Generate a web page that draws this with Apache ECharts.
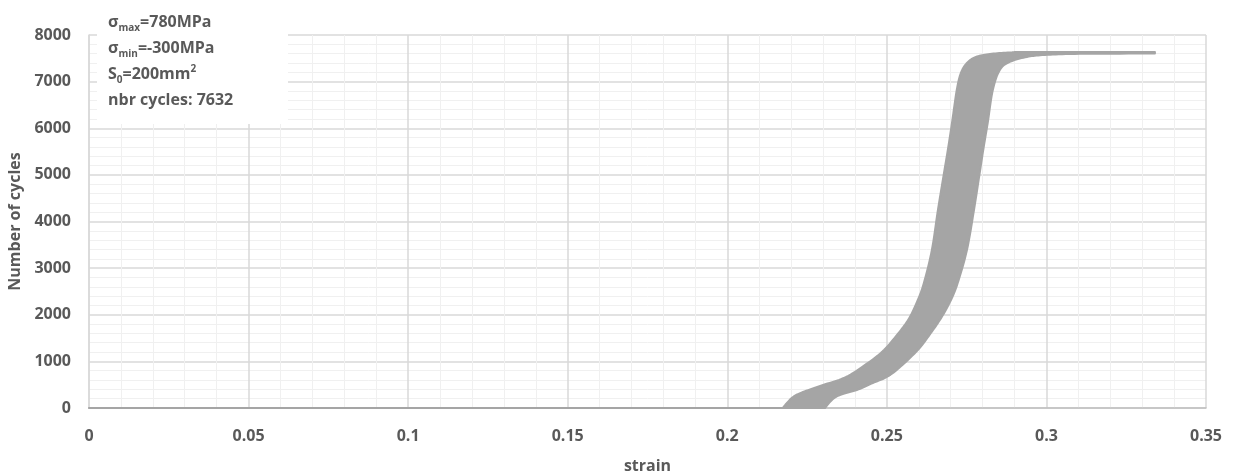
<!DOCTYPE html>
<html>
<head>
<meta charset="utf-8">
<script src="https://cdn.jsdelivr.net/npm/echarts@6/dist/echarts.min.js"></script>
<style>
html,body{margin:0;padding:0;background:#fff;}
#chart{width:1234px;height:475px;}
</style>
</head>
<body>
<div id="chart"></div>
<script>
// First loading branch along the strain axis (cycle 0)
const loadStrain = [0, 0.2174];
const loadCycles = [0, 0];
// Left (minimum strain) boundary of the cyclic band, bottom to top
const leftStrain = [0.2174, 0.2184, 0.2206, 0.2237, 0.2300, 0.2372, 0.2440, 0.2491, 0.2544, 0.2572, 0.2597, 0.2616, 0.2641, 0.2660, 0.2679, 0.2691, 0.2704, 0.2719, 0.2732, 0.2751, 0.2779, 0.2823, 0.2885, 0.2950, 0.3340];
const leftCycles = [0, 86, 236, 343, 493, 665, 965, 1244, 1673, 1952, 2317, 2681, 3389, 4247, 5041, 5534, 6113, 6821, 7186, 7400, 7529, 7593, 7625, 7635, 7635];
// Right (maximum strain) boundary of the cyclic band, bottom to top
const rightStrain = [0.2306, 0.2328, 0.2353, 0.2406, 0.2456, 0.2500, 0.2538, 0.2597, 0.2638, 0.2672, 0.2701, 0.2722, 0.2751, 0.2773, 0.2791, 0.2802, 0.2816, 0.2832, 0.2854, 0.2885, 0.2939, 0.2995, 0.3105, 0.3340];
const rightCycles = [0, 172, 279, 386, 536, 665, 858, 1244, 1609, 1952, 2317, 2681, 3389, 4247, 5041, 5534, 6113, 6821, 7250, 7422, 7529, 7572, 7596, 7602];

const xTicks = ['0', '0.05', '0.1', '0.15', '0.2', '0.25', '0.3', '0.35'];
const yTicks = ['0', '1000', '2000', '3000', '4000', '5000', '6000', '7000', '8000'];

const FONT = 'Open Sans';
const TXT = '#595959';

// Catmull-Rom smoothing of a pixel polyline (rendering only)
function smoothPx(pts, steps) {
  const out = [];
  const n = pts.length;
  for (let i = 0; i < n - 1; i++) {
    const p0 = pts[Math.max(i - 1, 0)], p1 = pts[i], p2 = pts[i + 1], p3 = pts[Math.min(i + 2, n - 1)];
    const c1 = [p1[0] + (p2[0] - p0[0]) / 6, p1[1] + (p2[1] - p0[1]) / 6];
    const c2 = [p2[0] - (p3[0] - p1[0]) / 6, p2[1] - (p3[1] - p1[1]) / 6];
    for (let s = 0; s < steps; s++) {
      const t = s / steps, u = 1 - t;
      out.push([
        u*u*u*p1[0] + 3*u*u*t*c1[0] + 3*u*t*t*c2[0] + t*t*t*p2[0],
        u*u*u*p1[1] + 3*u*u*t*c1[1] + 3*u*t*t*c2[1] + t*t*t*p2[1]
      ]);
    }
  }
  out.push(pts[n - 1]);
  return out;
}

const chart = echarts.init(document.getElementById('chart'), null, {renderer: 'canvas'});
chart.setOption({
  animation: false,
  backgroundColor: '#ffffff',
  grid: {left: 89, right: 28, top: 35, bottom: 67, containLabel: false, outerBoundsMode: 'none'},
  xAxis: {
    type: 'value', min: 0, max: 0.35, interval: 0.05,
    name: 'strain', nameLocation: 'middle', nameGap: 50,
    nameTextStyle: {fontFamily: FONT, fontSize: 16, fontWeight: 'bold', color: TXT},
    axisLine: {show: true, lineStyle: {color: '#bfbfbf', width: 1.5}},
    axisTick: {show: false},
    axisLabel: {
      margin: 20, fontFamily: FONT, fontSize: 16, fontWeight: 'bold', color: TXT,
      formatter: function (v) { const i = Math.round(v / 0.05); return xTicks[i] !== undefined ? xTicks[i] : ''; }
    },
    splitLine: {show: true, lineStyle: {color: '#d9d9d9', width: 1.5}},
    minorTick: {show: false, splitNumber: 5},
    minorSplitLine: {show: true, lineStyle: {color: '#f0f0f0', width: 1}}
  },
  yAxis: {
    type: 'value', min: 0, max: 8000, interval: 1000,
    name: 'Number of cycles', nameLocation: 'middle', nameGap: 63, nameRotate: 90,
    nameTextStyle: {fontFamily: FONT, fontSize: 16, fontWeight: 'bold', color: TXT},
    axisLine: {show: true, lineStyle: {color: '#d9d9d9', width: 1.5}},
    axisTick: {show: false},
    axisLabel: {
      margin: 18, fontFamily: FONT, fontSize: 16, fontWeight: 'bold', color: TXT,
      formatter: function (v) { const i = Math.round(v / 1000); return yTicks[i] !== undefined ? yTicks[i] : ''; }
    },
    splitLine: {show: true, lineStyle: {color: '#d9d9d9', width: 1.5}},
    minorTick: {show: false, splitNumber: 5},
    minorSplitLine: {show: true, lineStyle: {color: '#f0f0f0', width: 1}}
  },
  series: [{
    type: 'custom',
    coordinateSystem: 'cartesian2d',
    data: [[0, 0]],
    clip: false,
    renderItem: function (params, api) {
      const load = loadStrain.map((x, i) => api.coord([x, loadCycles[i]]));
      const left = smoothPx(leftStrain.map((x, i) => api.coord([x, leftCycles[i]])), 10);
      const right = smoothPx(rightStrain.map((x, i) => api.coord([x, rightCycles[i]])), 10);
      const pts = load.concat(left.slice(1), right.slice().reverse());
      return {
        type: 'polygon',
        shape: {points: pts},
        style: {fill: '#a5a5a5', stroke: '#a5a5a5', lineWidth: 2, lineJoin: 'round'}
      };
    }
  }],
  graphic: [
    {type: 'rect', left: 97, top: 0, z: 100, shape: {width: 191, height: 124}, style: {fill: '#ffffff'}},
    {
      type: 'text', left: 108, top: 14, z: 101,
      style: {
        text: '{s|σ}{sub|max}{s|=780MPa}\n{s|σ}{sub|min}{s|=-300MPa}\n{s|S}{sub|0}{s|=200mm}{sup|2}\n{s|nbr cycles: 7632}',
        rich: {
          s: {fontFamily: FONT, fontSize: 16, fontWeight: 'bold', fill: TXT, lineHeight: 26, verticalAlign: 'bottom'},
          sub: {fontFamily: FONT, fontSize: 10, fontWeight: 'bold', fill: TXT, lineHeight: 26, padding: [0, 0, -3, 0], verticalAlign: 'bottom'},
          sup: {fontFamily: FONT, fontSize: 10, fontWeight: 'bold', fill: TXT, lineHeight: 26, padding: [0, 0, 8, 0], verticalAlign: 'bottom'}
        }
      }
    }
  ]
});
</script>
</body>
</html>
